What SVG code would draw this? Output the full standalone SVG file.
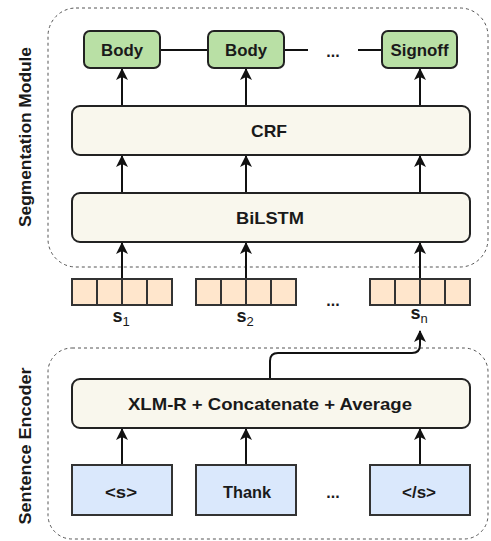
<svg xmlns="http://www.w3.org/2000/svg" width="491" height="541" viewBox="0 0 491 541">
<style>
text{font-family:"Liberation Sans",Arial,sans-serif;font-weight:bold;fill:#1a1a1a;text-anchor:middle;dominant-baseline:central}
.grp{fill:none;stroke:#555;stroke-width:1;stroke-dasharray:3 3}
.lab{fill:#b9e0a5;stroke:#222;stroke-width:2}
.wide{fill:#f9f7ed;stroke:#222;stroke-width:2}
.vec{fill:#ffe6cc;stroke:#333;stroke-width:2}
.tok{fill:#dae8fc;stroke:#333;stroke-width:2}
.conn{fill:none;stroke:#111;stroke-width:2}
.side{font-size:17px}
.t16{font-size:16px}
.t17{font-size:17px}
.dots{font-size:16px}
.sv{font-size:18px}
.sub{font-size:13px;font-weight:normal}
</style>
<defs>
<marker id="a" viewBox="0 0 12 12" refX="11" refY="6" markerWidth="12" markerHeight="12" orient="auto" markerUnits="userSpaceOnUse">
<path d="M0,0 L12,6 L0,12 L3,6 Z" fill="#111"/>
</marker>
</defs>

<g id="segmentation-module">
<rect class="grp" x="48" y="8" width="440" height="259" rx="28"/>
<text class="side" transform="translate(25,137) rotate(-90)" textLength="180" lengthAdjust="spacingAndGlyphs">Segmentation Module</text>
</g>
<g id="sentence-encoder">
<rect class="grp" x="48" y="348" width="440" height="191" rx="24"/>
<text class="side" transform="translate(25,446) rotate(-90)" textLength="157" lengthAdjust="spacingAndGlyphs">Sentence Encoder</text>
</g>

<g id="connectors">
<path class="conn" d="M160,50 H208"/>
<path class="conn" d="M284,50 H308"/>
<path class="conn" d="M358,50 H382"/>
<path class="conn" d="M122,106 V69" marker-end="url(#a)"/>
<path class="conn" d="M246,106 V69" marker-end="url(#a)"/>
<path class="conn" d="M420,106 V69" marker-end="url(#a)"/>
<path class="conn" d="M122,193 V156" marker-end="url(#a)"/>
<path class="conn" d="M246,193 V156" marker-end="url(#a)"/>
<path class="conn" d="M420,193 V156" marker-end="url(#a)"/>
<path class="conn" d="M122,292 V243" marker-end="url(#a)"/>
<path class="conn" d="M246,292 V243" marker-end="url(#a)"/>
<path class="conn" d="M420,292 V243" marker-end="url(#a)"/>
<path class="conn" d="M270,379 V361 Q270,353 278,353 H412 Q420,353 420,345 V331" marker-end="url(#a)"/>
<path class="conn" d="M122,465 V429" marker-end="url(#a)"/>
<path class="conn" d="M246,465 V429" marker-end="url(#a)"/>
<path class="conn" d="M420,465 V429" marker-end="url(#a)"/>
</g>

<g id="body1"><rect class="lab" x="84" y="31" width="76" height="37" rx="6"/><text class="t16" x="122" y="50" textLength="42" lengthAdjust="spacingAndGlyphs">Body</text></g>
<g id="body2"><rect class="lab" x="208" y="31" width="76" height="37" rx="6"/><text class="t16" x="246" y="50" textLength="42" lengthAdjust="spacingAndGlyphs">Body</text></g>
<g id="dots-top"><text class="dots" x="333" y="51">...</text></g>
<g id="signoff"><rect class="lab" x="382" y="31" width="75" height="37" rx="6"/><text class="t16" x="419.5" y="50" textLength="58" lengthAdjust="spacingAndGlyphs">Signoff</text></g>

<g id="crf"><rect class="wide" x="72" y="106" width="398" height="49" rx="8"/><text class="t17" x="269" y="131" textLength="36" lengthAdjust="spacingAndGlyphs">CRF</text></g>
<g id="bilstm"><rect class="wide" x="72" y="193" width="398" height="49" rx="8"/><text class="t17" x="270" y="218" textLength="68" lengthAdjust="spacingAndGlyphs">BiLSTM</text></g>

<g id="s1">
<rect class="vec" x="72" y="279" width="25" height="26"/><rect class="vec" x="97" y="279" width="25" height="26"/><rect class="vec" x="122" y="279" width="25" height="26"/><rect class="vec" x="147" y="279" width="25" height="26"/>
<text class="sv" x="121" y="316">s<tspan class="sub" dy="5">1</tspan></text>
</g>
<g id="s2">
<rect class="vec" x="196" y="279" width="25" height="26"/><rect class="vec" x="221" y="279" width="25" height="26"/><rect class="vec" x="246" y="279" width="25" height="26"/><rect class="vec" x="271" y="279" width="25" height="26"/>
<text class="sv" x="245" y="316">s<tspan class="sub" dy="5">2</tspan></text>
</g>
<g id="dots-mid"><text class="dots" x="333" y="300">...</text></g>
<g id="sn">
<rect class="vec" x="370" y="279" width="25" height="26"/><rect class="vec" x="395" y="279" width="25" height="26"/><rect class="vec" x="420" y="279" width="25" height="26"/><rect class="vec" x="445" y="279" width="25" height="26"/>
<text class="sv" x="419" y="313">s<tspan class="sub" dy="5">n</tspan></text>
</g>

<g id="xlmr"><rect class="wide" x="72" y="379" width="398" height="49" rx="8"/><text class="t17" x="270" y="404" textLength="284" lengthAdjust="spacingAndGlyphs">XLM-R + Concatenate + Average</text></g>

<g id="tok1"><rect class="tok" x="72" y="465" width="100" height="50"/><text class="t16" x="121" y="492" textLength="32" lengthAdjust="spacingAndGlyphs">&lt;s&gt;</text></g>
<g id="tok2"><rect class="tok" x="196" y="465" width="100" height="50"/><text class="t16" x="247" y="492" textLength="48" lengthAdjust="spacingAndGlyphs">Thank</text></g>
<g id="dots-bot"><text class="dots" x="333" y="492">...</text></g>
<g id="tok3"><rect class="tok" x="370" y="465" width="100" height="50"/><text class="t16" x="419" y="492" textLength="34" lengthAdjust="spacingAndGlyphs">&lt;/s&gt;</text></g>
</svg>
